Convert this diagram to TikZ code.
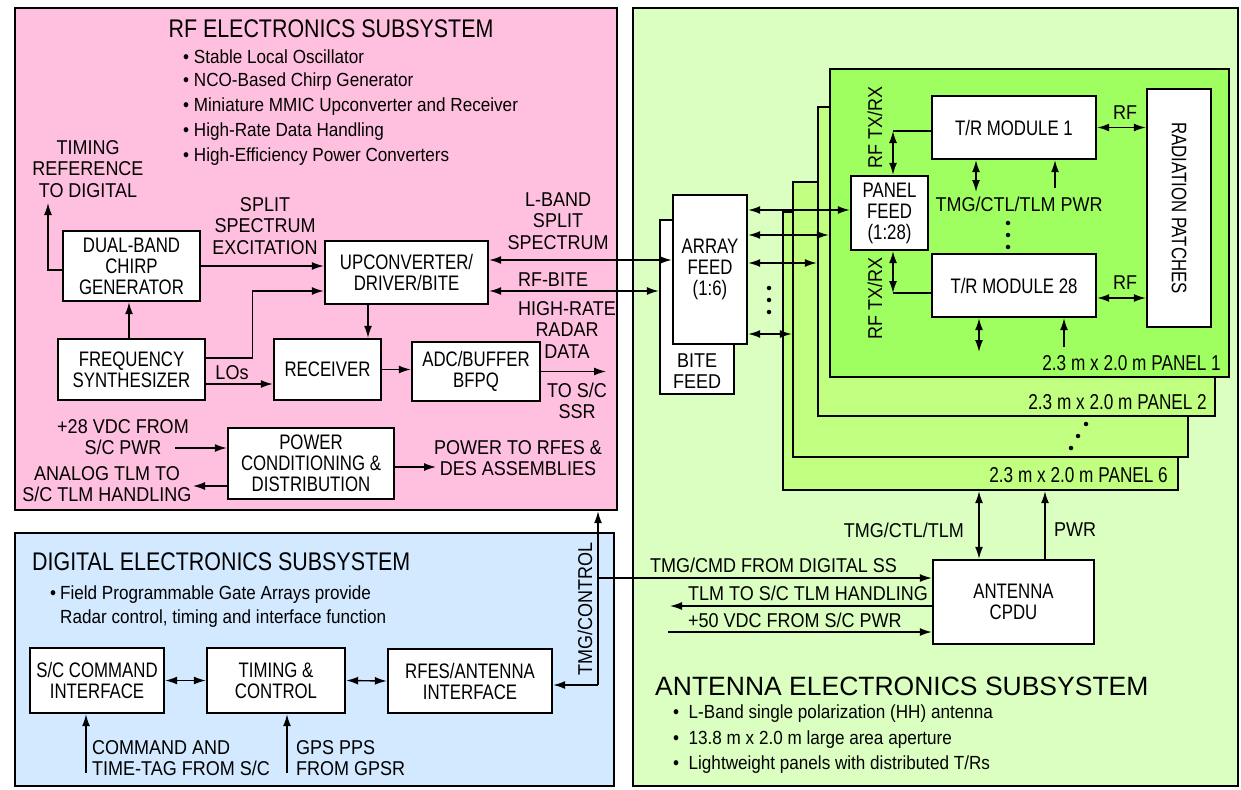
\documentclass[tikz,border=0pt]{standalone}
\usepackage{fontspec}
\setmainfont{Liberation Sans}
\newfontfamily\fA{Liberation Sans}[FakeStretch=0.80]
\newfontfamily\fB{Liberation Sans}[FakeStretch=0.90]
\newfontfamily\fT{Liberation Sans}[FakeStretch=0.84]
\usetikzlibrary{arrows.meta}
\definecolor{rfpink}{RGB}{255,192,224}
\definecolor{digblue}{RGB}{210,233,255}
\definecolor{antbg}{RGB}{218,255,192}
\definecolor{pnl}{RGB}{192,255,128}
\definecolor{pnlone}{RGB}{160,255,96}
\begin{document}
\begin{tikzpicture}[x=1pt,y=-1pt,
  >={Latex[length=12pt,width=8pt]},
  box/.style={draw,line width=2.4pt,fill=white,inner sep=0pt,align=center,font=\fA\fontsize{21}{21}\selectfont},
  area/.style={draw,line width=2.4pt,inner sep=0pt},
  conn/.style={line width=1.4pt},
  lbl/.style={inner sep=0pt,align=center,font=\fB\fontsize{20}{21.5}\selectfont},
  plbl/.style={inner sep=0pt,anchor=east,font=\fA\fontsize{21.5}{22}\selectfont},
  bul/.style={inner sep=0pt,anchor=west,font=\fB\fontsize{19}{25}\selectfont},
  ttl/.style={inner sep=0pt,font=\fT\fontsize{25.5}{26}\selectfont},
  dot/.style={fill=black,circle,inner sep=0pt,minimum size=4.5pt}
]
\fill[white] (0,0) rectangle (1241,789);
\useasboundingbox (0,0) rectangle (1241,789);

% subsystem areas
\node[area,fill=rfpink,minimum width=602pt,minimum height=502pt] (rf) at (316,259) {};
\node[area,fill=digblue,minimum width=599pt,minimum height=253pt] (dig) at (314.5,659.5) {};
\node[area,fill=antbg,minimum width=605pt,minimum height=778pt] (ant) at (935.5,397) {};

% panels
\node[area,fill=pnl,minimum width=395pt,minimum height=278pt] (p6) at (980.5,351) {};
\node[area,fill=pnl,minimum width=395pt,minimum height=275pt] (p5) at (990.5,319.5) {};
\node[area,fill=pnl,minimum width=397pt,minimum height=309pt] (p2) at (1016.5,261.5) {};
\node[area,fill=pnlone,minimum width=399pt,minimum height=308pt] (p1) at (1029.5,223) {};

% RF boxes
\node[box,minimum width=137pt,minimum height=70pt] (chirp) at (131.5,266) {DUAL-BAND\\CHIRP\\GENERATOR};
\node[box,minimum width=163pt,minimum height=63pt] (upconv) at (406.5,272.5) {UPCONVERTER/\\DRIVER/BITE};
\node[box,minimum width=147pt,minimum height=61pt] (synth) at (131.5,369.5) {FREQUENCY\\SYNTHESIZER};
\node[box,minimum width=107pt,minimum height=61pt] (recv) at (327.5,369.5) {RECEIVER};
\node[box,minimum width=128pt,minimum height=59pt] (adc) at (476,371.5) {ADC/BUFFER\\BFPQ};
\node[box,minimum width=166pt,minimum height=71pt] (power) at (311,463.5) {POWER\\CONDITIONING \&\\DISTRIBUTION};

% digital boxes
\node[box,minimum width=134pt,minimum height=65pt] (scc) at (97,680.5) {S/C COMMAND\\INTERFACE};
\node[box,minimum width=138pt,minimum height=65pt] (tc) at (276,680.5) {TIMING \&\\CONTROL};
\node[box,minimum width=164pt,minimum height=64pt] (rfes) at (470,681) {RFES/ANTENNA\\INTERFACE};

% antenna boxes
\node[box,minimum width=74pt,minimum height=174pt] (bitefeed) at (697,307) {};
\node[box,minimum width=74pt,minimum height=149pt] (arrayfeed) at (710,269.5) {ARRAY\\FEED\\(1:6)};
\node[box,minimum width=77pt,minimum height=74pt] (panelfeed) at (889.5,213) {PANEL\\FEED\\(1:28)};
\node[box,minimum width=164pt,minimum height=63pt] (tr1) at (1014,127.5) {T/R MODULE 1};
\node[box,minimum width=164pt,minimum height=63pt] (tr28) at (1014,285.5) {T/R MODULE 28};
\node[box,minimum width=64pt,minimum height=238pt] (patches) at (1179,208) {};
\node[box,minimum width=161pt,minimum height=84pt] (cpdu) at (1013.5,602) {ANTENNA\\CPDU};

% coordinates for free ends and corners
\coordinate (tref) at (48,203);
\coordinate (ssr) at (606,371.5);
\coordinate (p28) at (175,448);
\coordinate (atlm) at (193,486);
\coordinate (pwrout) at (436,467);
\coordinate (cmdin) at (86,773);
\coordinate (gpsin) at (287,773);
\coordinate (tb) at (598,685);
\coordinate (tj) at (598,578);
\coordinate (tlmend) at (670,606);
\coordinate (p50) at (668,632);
\coordinate (c1) at (893,131);
\coordinate (c2) at (893,293);
\coordinate (t1a) at (976,192);
\coordinate (t1b) at (1055,188);
\coordinate (t28a) at (979,352);
\coordinate (t28b) at (1064,347);

% RF connectors
\draw[conn,->] (chirp.east) -- (chirp.east -| upconv.west);
\draw[conn,->] ([yshift=11.5pt]synth.east) -- ++(46,0) |- ([yshift=-18.5pt]upconv.west);
\draw[conn,->] ([xshift=-2.5pt]synth.north) -- ([xshift=-2.5pt]chirp.south);
\draw[conn,->] ([yshift=-14.5pt]synth.east) -- ([yshift=-14.5pt]synth.east -| recv.west);
\draw[conn,->] ([xshift=-38.5pt]upconv.south) -- ([xshift=-38.5pt]upconv.south |- recv.north);
\draw[conn,->] (recv.east) -- (recv.east -| adc.west);
\draw[conn,->] (adc.east) -- (ssr);
\draw[conn,->] ([yshift=-4pt]chirp.west) -| (tref);
\draw[conn,<->] ([yshift=12.5pt]upconv.east) -- ([yshift=12.5pt]upconv.east -| arrayfeed.west);
\draw[conn,<->] ([yshift=-18.5pt]upconv.east) -- ([yshift=-18.5pt]upconv.east -| bitefeed.west);
\draw[conn,->] (p28) -- (p28 -| power.west);
\draw[conn,->] ([yshift=-22.5pt]power.west) -- (atlm);
\draw[conn,->] ([yshift=-3.5pt]power.east) -- (pwrout);

% digital connectors
\draw[conn,<->] (scc.east) -- (tc.west);
\draw[conn,<->] (tc.east) -- (rfes.west);
\draw[conn,->] (cmdin) -- (cmdin |- scc.south);
\draw[conn,->] (gpsin) -- (gpsin |- tc.south);
\draw[conn,->] (tb) -- (tb -| rfes.east);
\draw[conn,->] (tb) -- (tb |- rf.south);
\draw[conn,->] (tj) -- (tj -| cpdu.west);

% antenna connectors
\draw[conn,<->] ([yshift=59.5pt]arrayfeed.east) -- ([yshift=59.5pt]arrayfeed.east -| panelfeed.west);
\draw[conn,<->] ([yshift=34.5pt]arrayfeed.east) -- ([yshift=34.5pt]arrayfeed.east -| p1.west);
\draw[conn,<->] ([yshift=6.5pt]arrayfeed.east) -- ([yshift=6.5pt]arrayfeed.east -| p2.west);
\draw[conn,<->] ([yshift=-64.5pt]arrayfeed.east) -- ([yshift=-64.5pt]arrayfeed.east -| p5.west);
\draw[conn] (c1) -- (c1 -| tr1.west);
\draw[conn,<->] (c1) -- ([xshift=3.5pt]panelfeed.north);
\draw[conn] (c2) -- (c2 -| tr28.west);
\draw[conn,<->] ([xshift=3.5pt]panelfeed.south) -- (c2);
\draw[conn,<->] (tr1.east) -- (tr1.east -| patches.west);
\draw[conn,<->] ([yshift=-12.5pt]tr28.east) -- ([yshift=-12.5pt]tr28.east -| patches.west);
\draw[conn,<->] (t1a |- tr1.south) -- (t1a);
\draw[conn,->] (t1b) -- (t1b |- tr1.south);
\draw[conn,<->] (t28a |- tr28.south) -- (t28a);
\draw[conn,->] (t28b) -- (t28b |- tr28.south);
\draw[conn,<->] ([xshift=-34.5pt]cpdu.north) -- ([xshift=-34.5pt]cpdu.north |- p6.south);
\draw[conn,->] ([xshift=31.5pt]cpdu.north) -- ([xshift=31.5pt]cpdu.north |- p6.south);
\draw[conn,->] ([yshift=-4pt]cpdu.west) -- (tlmend);
\draw[conn,->] (p50) -- (p50 -| cpdu.west);

% RF texts
\node[ttl] (rftitle) at (331,29) {RF ELECTRONICS SUBSYSTEM};
\node[bul] (rb1) at (183,57) {\textbullet\ Stable Local Oscillator};
\node[bul] (rb2) at (183,82) {\textbullet\ NCO-Based Chirp Generator};
\node[bul] (rb3) at (183,107) {\textbullet\ Miniature MMIC Upconverter and Receiver};
\node[bul] (rb4) at (183,132) {\textbullet\ High-Rate Data Handling};
\node[bul] (rb5) at (183,157) {\textbullet\ High-Efficiency Power Converters};
\node[lbl] (ltref) at (88,169) {TIMING\\REFERENCE\\TO DIGITAL};
\node[lbl] (lsplit) at (265,226) {SPLIT\\SPECTRUM\\EXCITATION};
\node[lbl] (llband) at (558,221) {L-BAND\\SPLIT\\SPECTRUM};
\node[lbl] (lbite) at (553,280) {RF-BITE};
\node[lbl] (lhigh) at (567,330) {HIGH-RATE\\RADAR\\DATA};
\node[lbl] (lssr) at (577,401) {TO S/C\\SSR};
\node[lbl] (llos) at (232,373) {LOs};
\node[lbl] (l28) at (123,437) {+28 VDC FROM\\S/C PWR};
\node[lbl] (latlm) at (107,484) {ANALOG TLM TO\\S/C TLM HANDLING};
\node[lbl] (lpwr) at (518,458) {POWER TO RFES \&\\DES ASSEMBLIES};

% digital texts
\node[ttl,anchor=west] (digtitle) at (32,562) {DIGITAL ELECTRONICS SUBSYSTEM};
\node[bul] (db0) at (50,595) {\textbullet};
\node[bul] (db1) at (60,595) {Field Programmable Gate Arrays provide};
\node[bul] (db2) at (60,619) {Radar control, timing and interface function};
\node[lbl,anchor=west,align=left] (lcmd) at (92,758) {COMMAND AND\\TIME-TAG FROM S/C};
\node[lbl,anchor=west,align=left] (lgps) at (296,758) {GPS PPS\\FROM GPSR};
\node[lbl,rotate=90] (ltmg) at (585,609) {TMG/CONTROL};

% antenna texts
\node[lbl] (lbitefeed) at (697,371) {BITE\\FEED};
\node[box,draw=none,fill=none,rotate=-90] (lpatch) at (1179,208) {RADIATION PATCHES};
\node[lbl] (lrf1) at (1125,113) {RF};
\node[lbl] (lrf2) at (1125,283) {RF};
\node[lbl] (ltmgpwr) at (1019,204) {TMG/CTL/TLM PWR};
\node[lbl,rotate=90] (lrftx1) at (875,127) {RF TX/RX};
\node[lbl,rotate=90] (lrftx2) at (875,298) {RF TX/RX};
\node[dot] at (1008,223) {};
\node[dot] at (1008,235) {};
\node[dot] at (1008,247) {};
\node[dot] at (769,288) {};
\node[dot] at (769,300) {};
\node[dot] at (769,312) {};
\node[dot] at (1086,424) {};
\node[dot] at (1078,436) {};
\node[dot] at (1071,448) {};
\node[plbl] (lp1) at (1221,363) {2.3 m x 2.0 m PANEL 1};
\node[plbl] (lp2) at (1207,402) {2.3 m x 2.0 m PANEL 2};
\node[plbl] (lp6) at (1168,475) {2.3 m x 2.0 m PANEL 6};
\node[lbl,anchor=east] (ltct) at (964,530) {TMG/CTL/TLM};
\node[lbl,anchor=west] (lpwrc) at (1054,530) {PWR};
\node[lbl,anchor=west] (ltmgcmd) at (650,565) {TMG/CMD FROM DIGITAL SS};
\node[lbl,anchor=west] (ltlm) at (688,593) {TLM TO S/C TLM HANDLING};
\node[lbl,anchor=west] (l50) at (688,620) {+50 VDC FROM S/C PWR};
\node[inner sep=0pt,anchor=west,font=\rmfamily\fontsize{26.5}{27}\selectfont] (anttitle) at (655,686) {ANTENNA ELECTRONICS SUBSYSTEM};
\node[bul] (ab1) at (673,714) {\textbullet\ \ L-Band single polarization (HH) antenna};
\node[bul] (ab2) at (673,740) {\textbullet\ \ 13.8 m x 2.0 m large area aperture};
\node[bul] (ab3) at (673,765) {\textbullet\ \ Lightweight panels with distributed T/Rs};
\end{tikzpicture}
\end{document}
